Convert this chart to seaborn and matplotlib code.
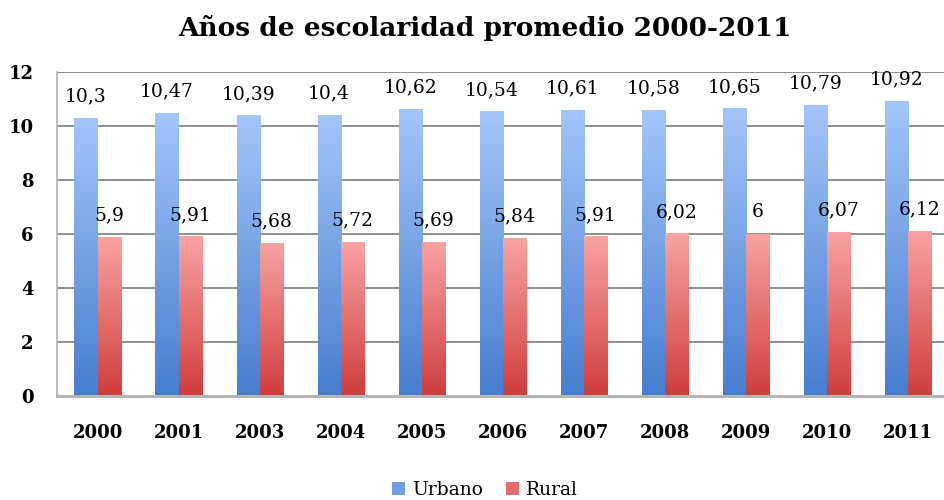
import numpy as np
import pandas as pd
import matplotlib
matplotlib.use("Agg")
import matplotlib.pyplot as plt
import seaborn as sns
from matplotlib.colors import LinearSegmentedColormap
from matplotlib.ticker import FixedLocator
from matplotlib.patches import Patch

years = ["2000", "2001", "2003", "2004", "2005", "2006", "2007", "2008", "2009", "2010", "2011"]
urbano = [10.3, 10.47, 10.39, 10.4, 10.62, 10.54, 10.61, 10.58, 10.65, 10.79, 10.92]
rural = [5.9, 5.91, 5.68, 5.72, 5.69, 5.84, 5.91, 6.02, 6.0, 6.07, 6.12]
series = ["Urbano", "Rural"]
title = "Años de escolaridad promedio 2000-2011"

df = pd.DataFrame({
    "year": years * 2,
    "value": urbano + rural,
    "serie": [series[0]] * len(years) + [series[1]] * len(years),
})

sns.set_theme(style="white")
plt.rcParams["font.family"] = ["DejaVu Serif"]
plt.rcParams["text.color"] = "black"
plt.rcParams["xtick.color"] = "black"
plt.rcParams["ytick.color"] = "black"

fig = plt.figure(figsize=(9.44, 5.0), dpi=100)
ax = fig.add_axes([57 / 944, 104 / 500, (944 - 57) / 944, 324 / 500])

top_cols = {"Urbano": "#a3c6fa", "Rural": "#f9a3a3"}
bot_cols = {"Urbano": "#477dcf", "Rural": "#cf3d3d"}
mid_cols = {"Urbano": "#6f9fe6", "Rural": "#e46c6c"}

sns.barplot(data=df, x="year", y="value", hue="serie", order=years, hue_order=series,
            palette=mid_cols, width=0.57, ax=ax, legend=True, saturation=1)

xlim = (-0.5, -0.5 + (944 - 56.5) / 81.1)

# gradients
bars = [p for p in ax.patches if p.get_height() > 0]
n = len(years)
for i, p in enumerate(bars[: 2 * n]):
    s = series[0] if i < n else series[1]
    cmap = LinearSegmentedColormap.from_list(s, [bot_cols[s], top_cols[s]])
    x0, y0 = p.get_x(), p.get_y()
    w, h = p.get_width(), p.get_height()
    grad = np.linspace(0, 1, 256).reshape(-1, 1)
    im = ax.imshow(grad, cmap=cmap, aspect="auto", origin="lower",
                   extent=[x0, x0 + w, y0, y0 + h], zorder=2)
    im.set_clip_path(p)
    p.set_facecolor("none")
    p.set_edgecolor("none")
    p.set_zorder(2)
ax.set_xlim(*xlim)
ax.set_ylim(0, 12)

def fmt(v):
    return ("%g" % v).replace(".", ",")

for p in bars[: 2 * n]:
    v = p.get_height()
    ax.annotate(fmt(v), (p.get_x() + p.get_width() / 2, v), xytext=(0, 15.5),
                textcoords="offset points", ha="center", va="center",
                fontsize=13.5, color="black", zorder=5)

ax.set_yticks(range(0, 13, 2))
ax.yaxis.grid(True, color="#8e8e8e", linewidth=1.4, zorder=0)
ax.set_axisbelow(True)
for side in ["top", "right"]:
    ax.spines[side].set_visible(False)
ax.spines["left"].set_color("#b0b0b0")
ax.spines["left"].set_linewidth(1.2)
ax.spines["bottom"].set_color("#b4b4b4")
ax.spines["bottom"].set_linewidth(2.2)

ax.set_xlabel("")
ax.set_ylabel("")
ax.tick_params(axis="x", which="major", length=0, pad=20, labelsize=13, labelcolor="black")
ax.xaxis.set_minor_locator(FixedLocator(np.arange(-0.5, n + 0.5, 1.0)))
ax.tick_params(axis="x", which="minor", length=6, width=1.4, color="#9a9a9a", direction="out")
ax.tick_params(axis="y", length=0, pad=17, labelsize=13, labelcolor="black")
for lab in ax.get_xticklabels() + ax.get_yticklabels():
    lab.set_fontweight("bold")

handles = [Patch(facecolor=mid_cols[s], edgecolor="none") for s in series]
leg = ax.legend(handles, series, loc="center", bbox_to_anchor=(485 / 944, 10 / 500),
                bbox_transform=fig.transFigure, ncol=2, frameon=False, fontsize=13.5,
                handlelength=0.7, handleheight=0.7, handletextpad=0.4, columnspacing=1.2)
for t in leg.get_texts():
    t.set_color("black")

fig.text(485 / 944, 1 - 28 / 500, title, ha="center", va="center",
         fontsize=19, fontweight="bold", color="black")

fig.savefig("out.png", dpi=100)
